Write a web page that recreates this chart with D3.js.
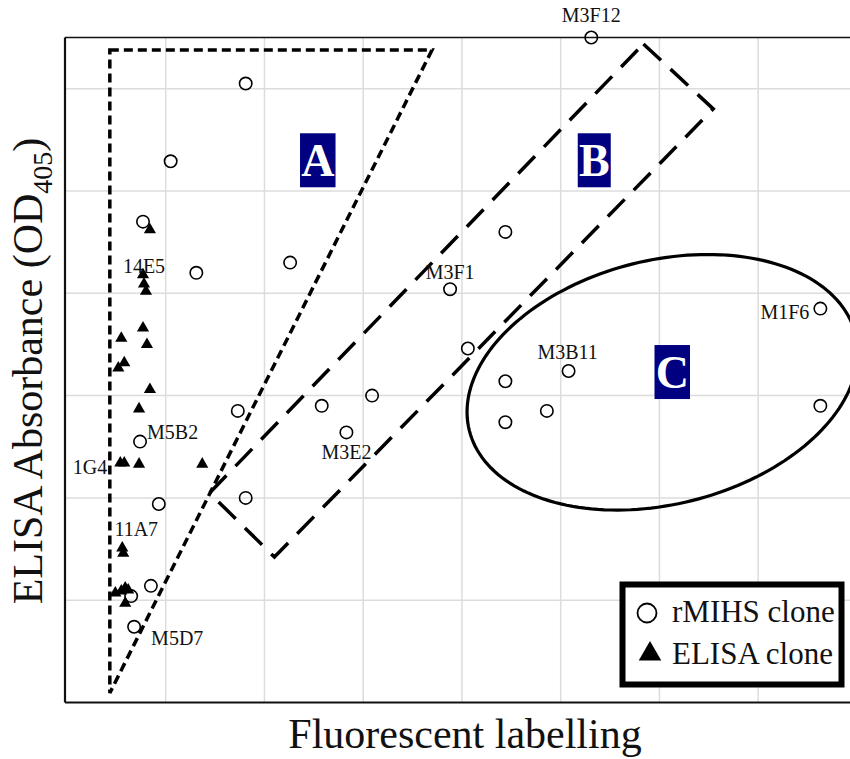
<!DOCTYPE html>
<html>
<head>
<meta charset="utf-8">
<script src="https://cdn.jsdelivr.net/npm/d3@7"></script>
<style>
  html, body { margin: 0; padding: 0; background: #fff; }
  svg { display: block; }
  text { font-family: "Liberation Serif", "Times New Roman", serif; }
</style>
</head>
<body>
<svg id="chart" width="850" height="759"></svg>
<script>
// ---------- DATA ----------
// rMIHS clones (open circles): [fluorescent labelling, ELISA OD405]
const rmihsX = [1.81, 1.05, 0.77, 1.31, 2.26, 5.31, 4.44, 3.88, 4.06, 5.08, 7.63, 4.44, 4.44, 4.86, 7.63, 1.73, 2.58, 3.09, 2.83, 0.74, 1.81, 0.93, 0.85, 0.65, 0.68];
const rmihsY = [6.05, 5.29, 4.70, 4.20, 4.30, 6.50, 4.60, 4.04, 3.46, 3.24, 3.85, 3.14, 2.74, 2.85, 2.90, 2.85, 2.90, 3.00, 2.64, 2.55, 2.00, 1.94, 1.14, 1.04, 0.74];
// ELISA clones (filled triangles)
const elisaX = [0.84, 0.77, 0.78, 0.80, 0.77, 0.81, 0.55, 0.58, 0.52, 0.84, 0.73, 0.54, 0.58, 0.73, 1.37, 0.56, 0.57, 0.49, 0.55, 0.59, 0.62, 0.59];
const elisaY = [4.62, 4.18, 4.09, 4.02, 3.66, 3.50, 3.56, 3.32, 3.27, 3.06, 2.87, 2.34, 2.34, 2.33, 2.33, 1.51, 1.46, 1.07, 1.09, 1.12, 1.10, 0.97];
// labelled clones: name, series, index
const labelNames  = ["M3F12", "M3F1", "M1F6", "M3B11", "M3E2", "M5B2", "M5D7", "14E5", "1G4", "11A7"];
const labelSeries = ["r", "r", "r", "r", "r", "r", "r", "e", "e", "e"];
const labelIndex  = [5, 7, 10, 9, 18, 19, 24, 2, 11, 15];
// group regions
const regionNames = ["A", "B", "C"];
const regionA = [[0.434, 6.378], [3.697, 6.378], [0.434, 0.093]];
const regionB = [[5.838, 6.437], [6.545, 5.802], [2.101, 1.422], [1.444, 2.048]];
const regionCCenter = [6.03, 3.13];
const regionLabelPos = [[2.54, 5.30], [5.34, 5.30], [6.13, 3.23]];
const xTicks = [1, 2, 3, 4, 5, 6, 7];
const yTicks = [1, 2, 3, 4, 5, 6];
const legendLabels = ["rMIHS clone", "ELISA clone"];

// ---------- SCALES ----------
const svg = d3.select("#chart");
const x = d3.scaleLinear().domain([-0.02, 7.92]).range([65, 849]);
const y = d3.scaleLinear().domain([0, 6.5]).range([702.5, 37.5]);
const X0 = 65, X1 = 900, Y0 = 37.5, Y1 = 702.5;

// grid
svg.append("g").selectAll("line").data(xTicks).join("line")
  .attr("x1", d => x(d)).attr("x2", d => x(d)).attr("y1", Y0).attr("y2", Y1)
  .attr("stroke", "#dcdcdc").attr("stroke-width", 1.5);
svg.append("g").selectAll("line").data(yTicks).join("line")
  .attr("y1", d => y(d)).attr("y2", d => y(d)).attr("x1", X0).attr("x2", X1)
  .attr("stroke", "#dcdcdc").attr("stroke-width", 1.5);

// frame
svg.append("line").attr("x1", X0).attr("x2", X1).attr("y1", Y0).attr("y2", Y0)
  .attr("stroke", "#111").attr("stroke-width", 1.5);
svg.append("line").attr("x1", X0).attr("x2", X1).attr("y1", Y1).attr("y2", Y1)
  .attr("stroke", "#111").attr("stroke-width", 2.2);
svg.append("line").attr("x1", X0).attr("x2", X0).attr("y1", Y0).attr("y2", Y1)
  .attr("stroke", "#111").attr("stroke-width", 2.2);

// region A (short dashes)
const line = d3.line().x(d => x(d[0])).y(d => y(d[1]));
svg.append("path").attr("d", line(regionA) + "Z")
  .attr("fill", "none").attr("stroke", "#000").attr("stroke-width", 3.5)
  .attr("stroke-dasharray", "9,5");
// region B (long dashes)
svg.append("path").attr("d", line(regionB) + "Z")
  .attr("fill", "none").attr("stroke", "#000").attr("stroke-width", 3.5)
  .attr("stroke-dasharray", "24,13");
// region C (ellipse)
{
  const cx = x(regionCCenter[0]), cy = y(regionCCenter[1]);
  const a = 199, b = 122, th = -14 * Math.PI / 180;
  const pts = d3.range(0, 361, 2).map(t => {
    const r = t * Math.PI / 180;
    return [cx + a * Math.cos(th) * Math.cos(r) - b * Math.sin(th) * Math.sin(r),
            cy + a * Math.sin(th) * Math.cos(r) + b * Math.cos(th) * Math.sin(r)];
  });
  svg.append("path").attr("d", d3.line()(pts) + "Z")
    .attr("fill", "none").attr("stroke", "#000").attr("stroke-width", 3.2);
}

// region labels
regionNames.forEach((n, i) => {
  const px = x(regionLabelPos[i][0]), py = y(regionLabelPos[i][1]);
  const w = i === 1 ? 33 : 35.5;
  svg.append("rect").attr("x", px - w / 2).attr("y", py - 27).attr("width", w).attr("height", 54)
    .attr("fill", "#000080");
  svg.append("text").attr("x", px).attr("y", py + 16).attr("text-anchor", "middle")
    .attr("fill", "#fff").attr("font-size", 46).attr("font-weight", "bold").text(n);
});

// points
const rData = rmihsX.map((v, i) => [v, rmihsY[i]]);
const eData = elisaX.map((v, i) => [v, elisaY[i]]);
svg.append("g").selectAll("circle").data(rData).join("circle")
  .attr("cx", d => x(d[0])).attr("cy", d => y(d[1])).attr("r", 6.2)
  .attr("fill", "none").attr("stroke", "#000").attr("stroke-width", 1.6);
const tri = d3.symbol().type(d3.symbolTriangle).size(64);
svg.append("g").selectAll("path").data(eData).join("path")
  .attr("transform", d => `translate(${x(d[0])},${y(d[1])})`)
  .attr("d", tri).attr("fill", "#000");

// point labels
const labelOffsets = {
  "M3F12": [0, -16, "middle"], "M3F1": [0, -10, "middle"], "M1F6": [-11, 10, "end"],
  "M3B11": [-1, -12, "middle"], "M3E2": [0, 27, "middle"], "M5B2": [7, -3, "start"],
  "M5D7": [17, 18, "start"], "14E5": [0, -11, "middle"], "1G4": [-13, 11, "end"],
  "11A7": [14, -12, "middle"]
};
labelNames.forEach((n, i) => {
  const d = labelSeries[i] === "r" ? rData[labelIndex[i]] : eData[labelIndex[i]];
  const o = labelOffsets[n];
  svg.append("text").attr("x", x(d[0]) + o[0]).attr("y", y(d[1]) + o[1])
    .attr("text-anchor", o[2]).attr("font-size", 20).attr("fill", "#111").text(n);
});

// legend
const lg = svg.append("g");
lg.append("rect").attr("x", 622.5).attr("y", 584.5).attr("width", 219).attr("height", 100)
  .attr("fill", "#fff").attr("stroke", "#000").attr("stroke-width", 6);
lg.append("circle").attr("cx", 647).attr("cy", 613).attr("r", 9.5)
  .attr("fill", "none").attr("stroke", "#000").attr("stroke-width", 1.8);
lg.append("path").attr("transform", "translate(650,654)")
  .attr("d", d3.symbol().type(d3.symbolTriangle).size(220)).attr("fill", "#000");
lg.selectAll("text").data(legendLabels).join("text")
  .attr("x", 672).attr("y", (d, i) => 622 + i * 41.5)
  .attr("font-size", 31).attr("fill", "#111").text(d => d);

// axis titles
svg.append("text").attr("x", 465).attr("y", 748).attr("text-anchor", "middle")
  .attr("font-size", 42).attr("fill", "#111").text("Fluorescent labelling");
const yt = svg.append("text").attr("transform", "translate(42,371) rotate(-90)")
  .attr("text-anchor", "middle").attr("font-size", 42).attr("fill", "#111");
yt.append("tspan").text("ELISA Absorbance (OD");
yt.append("tspan").attr("font-size", 28).attr("dy", 10).text("405");
yt.append("tspan").attr("dy", -10).text(")");
</script>
</body>
</html>
